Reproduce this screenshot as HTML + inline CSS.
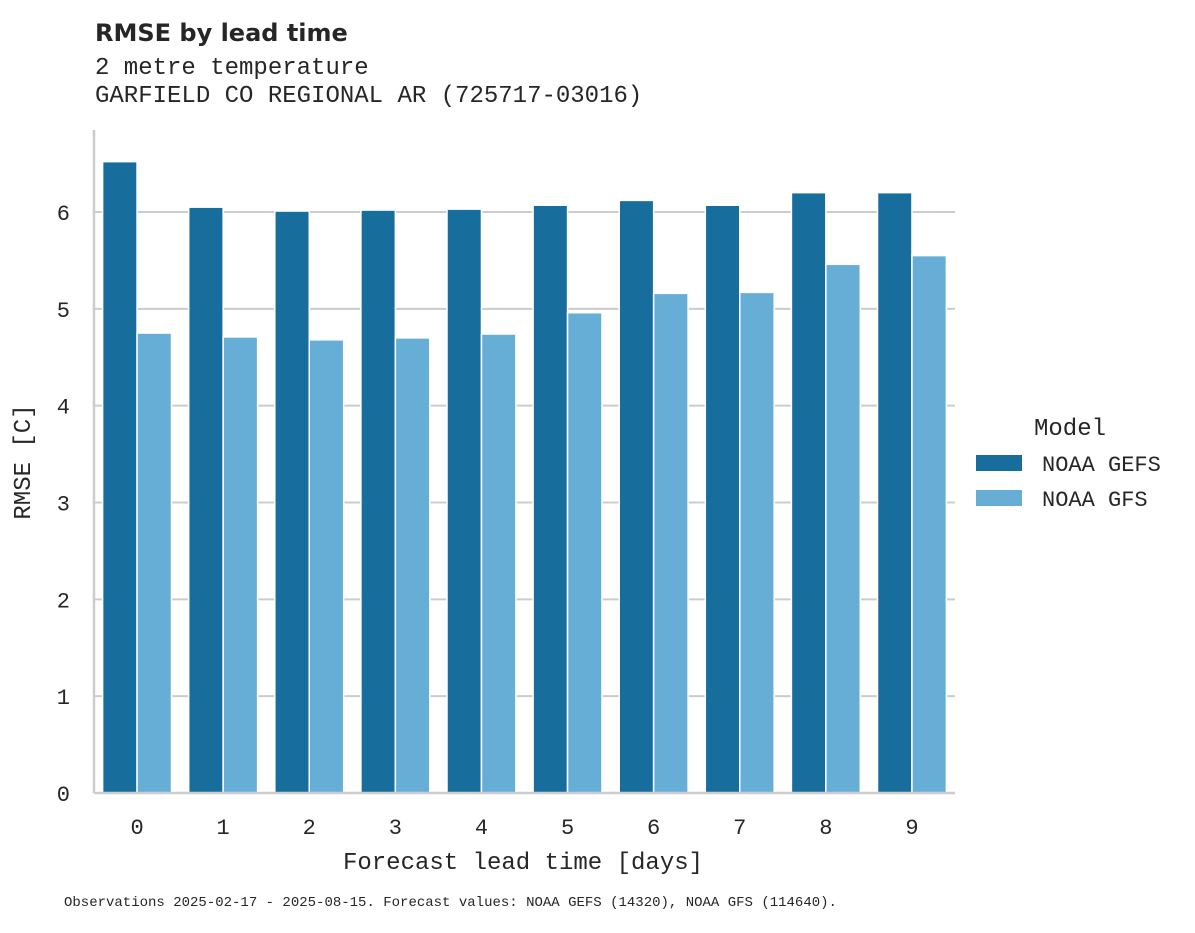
<!DOCTYPE html>
<html><head><meta charset="utf-8"><style>
body{margin:0;background:#fff;}
svg text{font-family:"Liberation Mono","DejaVu Sans Mono",monospace;fill:#262626;}
</style></head><body>
<svg id="chart" width="1195" height="928" xmlns="http://www.w3.org/2000/svg">
<text x="95" y="41" style="font-family:'DejaVu Sans','Liberation Sans',sans-serif;font-weight:bold;font-size:24px">RMSE by lead time</text>
<text x="95" y="74" font-size="24">2 metre temperature</text>
<text x="95" y="102" font-size="24">GARFIELD CO REGIONAL AR (725717-03016)</text>
<g id="grid"></g>
<g id="bars"></g>
<g id="axes"></g>
<text x="30" y="462" font-size="24" text-anchor="middle" transform="rotate(-90 30 462)">RMSE [C]</text>
<text x="523" y="869" font-size="24" text-anchor="middle">Forecast lead time [days]</text>
<text x="64" y="906" font-size="14">Observations 2025-02-17 - 2025-08-15. Forecast values: NOAA GEFS (14320), NOAA GFS (114640).</text>
<g>
<text x="1034" y="435" font-size="24">Model</text>
<rect x="976" y="455" width="46" height="16" fill="#176e9d"/>
<text x="1042" y="471" font-size="22">NOAA GEFS</text>
<rect x="976" y="490" width="46" height="16" fill="#67aed6"/>
<text x="1042" y="506" font-size="22">NOAA GFS</text>
</g>
</svg>
<script>
const categories=[0,1,2,3,4,5,6,7,8,9];
const gefsValues=[6.52,6.05,6.01,6.02,6.03,6.07,6.12,6.07,6.20,6.20];
const gfsValues=[4.75,4.71,4.68,4.70,4.74,4.96,5.16,5.17,5.46,5.55];
const yTicks=[0,1,2,3,4,5,6];
const NS="http://www.w3.org/2000/svg";
const x0=94,x1=955,yBase=793,pxPerUnit=96.83;
const step=(x1-x0)/categories.length;
function xCenter(i){return x0+step*(i+0.5);}
function y(v){return yBase-v*pxPerUnit;}
const grid=document.getElementById('grid'),bars=document.getElementById('bars'),axes=document.getElementById('axes');
function mk(tag,attrs,parent){const e=document.createElementNS(NS,tag);for(const k in attrs)e.setAttribute(k,attrs[k]);parent.appendChild(e);return e;}
yTicks.forEach(t=>{
  if(t>0){const g=mk('line',{x1:x0,x2:x1,y1:y(t),y2:y(t),stroke:'#cccccc','stroke-width':2},grid);
  
  }
  const l=mk('text',{x:70,y:y(t)+8,'font-size':22,'text-anchor':'end'},axes);
  l.textContent=t;
  
  
});
const bw=step*0.8/2;
categories.forEach((c,i)=>{
  const cx=xCenter(i);
  const b1=mk('rect',{x:cx-bw,y:y(gefsValues[i]),width:bw,height:gefsValues[i]*pxPerUnit,fill:'#176e9d',stroke:'#fff','stroke-width':1.5},bars);
  
  
  const b2=mk('rect',{x:cx,y:y(gfsValues[i]),width:bw,height:gfsValues[i]*pxPerUnit,fill:'#67aed6',stroke:'#fff','stroke-width':1.5},bars);
  
  
  const l=mk('text',{x:cx,y:834,'font-size':22,'text-anchor':'middle'},axes);
  l.textContent=c;
  
  
});
const ya=mk('line',{x1:x0,x2:x0,y1:130,y2:yBase,stroke:'#cccccc','stroke-width':2.5},axes);


const xa=mk('line',{x1:x0,x2:x1,y1:yBase,y2:yBase,stroke:'#cccccc','stroke-width':2.5},axes);


</script>
</body></html>
